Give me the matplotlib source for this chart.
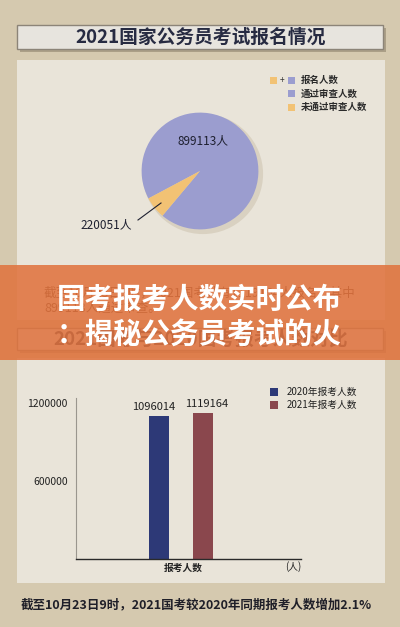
import matplotlib
matplotlib.use('Agg')
import matplotlib.pyplot as plt
from matplotlib.patches import Rectangle, Circle

plt.rcParams['font.family'] = ['Noto Sans CJK SC', 'DejaVu Sans']

# ---------------- data ----------------
title_top = '2021国家公务员考试报名情况'
pie_legend_labels = ['报名人数', '通过审查人数', '未通过审查人数']
pie_labels = ['通过审查人数', '未通过审查人数']
pie_counts = [899113, 220051]
pie_shares_drawn = [93.9, 6.1]          # slice sizes as drawn in the reference picture
pie_colors = ['#9b9dcf', '#f2c274']

title_bottom = '2021国考与2020国考报考人数对比'
bar_categories = ['2020年报考人数', '2021年报考人数']
bar_values = [1096014, 1119164]
bar_colors = ['#2d3977', '#8a474d']
y_ticks = [600000, 1200000]
x_label = '报考人数'
unit_label = '(人)'

note_lines = ['截至10月23日9时，2021国考共有1119164人报名，其中',
              '899113人通过审查。']
banner_lines = ['国考报考人数实时公布', '：揭秘公务员考试的火']
caption = '截至10月23日9时，2021国考较2020年同期报考人数增加2.1%'

# ---------------- figure ----------------
W, H = 400, 627
fig = plt.figure(figsize=(W / 100, H / 100), dpi=100)
fig.patch.set_facecolor('#d5c9af')

def frac(x0, y0, x1, y1):
    return [x0 / W, 1 - y1 / H, (x1 - x0) / W, (y1 - y0) / H]

def px_axes(z):
    a = fig.add_axes([0, 0, 1, 1], zorder=z)
    a.set_xlim(0, W)
    a.set_ylim(H, 0)
    a.axis('off')
    a.patch.set_alpha(0)
    return a

bg = px_axes(0)

panel_col = '#e9e4d9'
bg.add_patch(Rectangle((17, 60), 368, 260, facecolor=panel_col, edgecolor='none', zorder=1))
bg.add_patch(Rectangle((17, 358), 368, 225, facecolor=panel_col, edgecolor='none', zorder=1))

def title_box(y0, y1, text, size):
    bg.add_patch(Rectangle((20, y0 + 3), 366, y1 - y0, facecolor='#8f836d', alpha=0.6,
                           edgecolor='none', zorder=2))
    bg.add_patch(Rectangle((17, y0), 366, y1 - y0, facecolor='#e7e4de',
                           edgecolor='#8c8478', lw=1.0, zorder=3))
    bg.text(201, (y0 + y1) / 2 + 0.5, text, ha='center', va='center', fontsize=size,
            color='#272b42', fontweight='bold', zorder=4)

title_box(25, 49, title_top, 13.5)
title_box(328, 350, title_bottom, 13.5)

# ---------------- pie legend ----------------
def sq(x, y, c, s=7):
    bg.add_patch(Rectangle((x, y - s / 2), s, s, facecolor=c, edgecolor='none', zorder=5))

sq(270, 80, pie_colors[1])
bg.text(282, 80, '+', ha='center', va='center', fontsize=6, color='#333333', zorder=5)
sq(288, 80, pie_colors[0])
legend_cols = [pie_colors[0], pie_colors[0], pie_colors[1]]
for i, (lab, c) in enumerate(zip(pie_legend_labels, legend_cols)):
    y = 80 + i * 13.5
    if i > 0:
        sq(288, y, c)
    bg.text(301, y, lab, ha='left', va='center', fontsize=6.8, color='#2a2a2a',
            fontweight='bold', zorder=5)

# ---------------- covered note text ----------------
bg.text(44, 293, note_lines[0], ha='left', va='center', fontsize=9, color='#4a2a20', zorder=4)
bg.text(44, 308, note_lines[1], ha='left', va='center', fontsize=9, color='#4a2a20', zorder=4)

# ---------------- pie ----------------
pax = fig.add_axes(frac(127, 98, 273, 244), zorder=1)
pax.set_xlim(-1.08, 1.08)
pax.set_ylim(-1.08, 1.08)
pax.set_aspect('equal')
pax.axis('off')
pax.add_patch(Circle((0.05, -0.05), 1.03, facecolor='#d9d1c1', edgecolor='none', zorder=0))
pax.pie(pie_shares_drawn, colors=pie_colors, startangle=230, counterclock=True,
        radius=1.0, wedgeprops=dict(linewidth=0))

# ---------------- bar chart ----------------
bax = fig.add_axes(frac(76, 398, 301, 559), zorder=1)
bax.patch.set_alpha(0)
xpos = list(range(len(bar_values)))
bax.bar(xpos, bar_values, width=0.455, color=bar_colors)
bax.set_xlim(-1.886, 3.227)
bax.set_ylim(0, 1238000)
bax.set_yticks(y_ticks)
bax.set_yticklabels([str(v) for v in y_ticks], fontsize=7.5, color='#222222')
bax.set_xticks([])
bax.tick_params(axis='y', length=0, pad=6)
for s in ['top', 'right']:
    bax.spines[s].set_visible(False)
bax.spines['left'].set_color('#9a968e')
bax.spines['left'].set_linewidth(0.8)
bax.spines['bottom'].set_color('#2a2a2a')
bax.spines['bottom'].set_linewidth(1.0)
label_shift_pt = [-4, 3]
for x, v, dx in zip(xpos, bar_values, label_shift_pt):
    bax.annotate(str(v), (x, v), xytext=(dx, 3), textcoords='offset points',
                 ha='center', va='bottom', fontsize=8, color='#222222')

# ---------------- top overlay (labels + banner) ----------------
top = px_axes(3)
top.text(203, 141, f'{pie_counts[0]}人', ha='center', va='center', fontsize=8.5,
         color='#1e2030', zorder=5)
top.text(106, 225, f'{pie_counts[1]}人', ha='center', va='center', fontsize=8.5,
         color='#1e2030', zorder=5)
top.plot([138, 161], [220, 203], color='#1e2030', lw=0.8, zorder=5)

top.text(183, 568, x_label, ha='center', va='center', fontsize=7, color='#222222',
         fontweight='bold', zorder=5)
top.text(293, 567, unit_label, ha='center', va='center', fontsize=7, color='#222222', zorder=5)

for i, (lab, c) in enumerate(zip(bar_categories, bar_colors)):
    y = 392 + i * 13
    top.add_patch(Rectangle((270, y - 4), 8, 8, facecolor=c, edgecolor='none', zorder=5))
    top.text(287, y, lab, ha='left', va='center', fontsize=7, color='#222222', zorder=5)

top.text(196, 605, caption, ha='center', va='center', fontsize=9, color='#1f1f28',
         fontweight='bold', zorder=5)

top.add_patch(Rectangle((0, 265), W, 95, facecolor='#e0733e', alpha=0.87,
                        edgecolor='none', zorder=10))
top.text(199, 300, banner_lines[0], ha='center', va='center', fontsize=20.5,
         color='white', fontweight='bold', zorder=11)
top.text(199, 335, banner_lines[1], ha='center', va='center', fontsize=20.5,
         color='white', fontweight='bold', zorder=11)

fig.savefig('out.png', dpi=100, facecolor=fig.get_facecolor())
